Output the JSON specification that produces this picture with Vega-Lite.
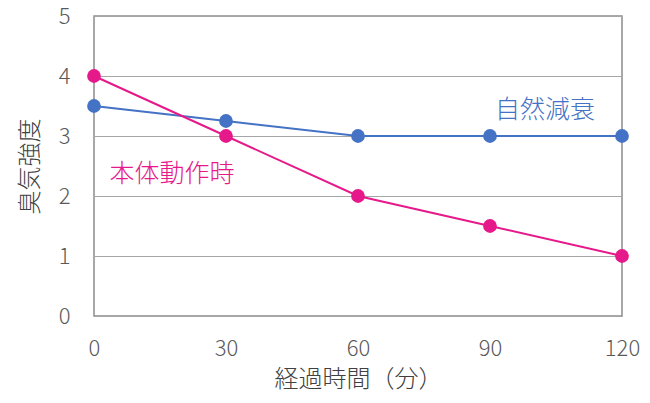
{
  "$schema": "https://vega.github.io/schema/vega-lite/v6.json",
  "width": 528,
  "height": 300,
  "autosize": "none",
  "padding": {"left": 94, "top": 16, "right": 28, "bottom": 87},
  "background": "white",
  "config": {
    "view": {"stroke": "#8c8c8c", "strokeWidth": 1.5},
    "font": "Noto Sans CJK JP",
    "axis": {
      "labelFont": "Noto Sans CJK JP",
      "titleFont": "Noto Sans CJK JP",
      "labelColor": "#595959",
      "titleColor": "#404040",
      "labelFontSize": 22,
      "titleFontSize": 24,
      "labelFontWeight": 300,
      "titleFontWeight": 300,
      "ticks": false,
      "domain": false,
      "labelFlush": false
    }
  },
  "datasets": {
    "lines": [
      {"time": 0, "value": 3.5, "series": "自然減衰"},
      {"time": 30, "value": 3.25, "series": "自然減衰"},
      {"time": 60, "value": 3, "series": "自然減衰"},
      {"time": 90, "value": 3, "series": "自然減衰"},
      {"time": 120, "value": 3, "series": "自然減衰"},
      {"time": 0, "value": 4, "series": "本体動作時"},
      {"time": 30, "value": 3, "series": "本体動作時"},
      {"time": 60, "value": 2, "series": "本体動作時"},
      {"time": 90, "value": 1.5, "series": "本体動作時"},
      {"time": 120, "value": 1, "series": "本体動作時"}
    ],
    "labels": [
      {"time": 102.5, "value": 3.43, "series": "自然減衰"},
      {"time": 17.7, "value": 2.37, "series": "本体動作時"}
    ]
  },
  "layer": [
    {
      "data": {"name": "lines"},
      "mark": {"type": "line", "strokeWidth": 2, "point": {"filled": true, "size": 190, "opacity": 1}},
      "encoding": {
        "x": {
          "field": "time", "type": "quantitative",
          "scale": {"domain": [0, 120], "nice": false},
          "axis": {"values": [0, 30, 60, 90, 120], "format": "d", "grid": false, "labelPadding": 22, "title": "経過時間（分）", "titlePadding": 8}
        },
        "y": {
          "field": "value", "type": "quantitative",
          "scale": {"domain": [0, 5], "nice": false},
          "axis": {"values": [0, 1, 2, 3, 4, 5], "format": "d", "grid": true, "gridColor": "#a6a6a6", "gridWidth": 1.2, "labelPadding": 24, "title": "臭気強度", "titlePadding": 16}
        },
        "color": {
          "field": "series", "type": "nominal",
          "scale": {"domain": ["自然減衰", "本体動作時"], "range": ["#4472C4", "#E6198A"]},
          "legend": null
        },
        "order": {"field": "time"}
      }
    },
    {
      "data": {"name": "labels"},
      "mark": {"type": "text", "fontSize": 25, "fontWeight": 300, "font": "Noto Sans CJK JP", "align": "center", "baseline": "middle"},
      "encoding": {
        "x": {"field": "time", "type": "quantitative"},
        "y": {"field": "value", "type": "quantitative"},
        "text": {"field": "series"},
        "color": {"field": "series", "type": "nominal", "legend": null}
      }
    }
  ]
}
